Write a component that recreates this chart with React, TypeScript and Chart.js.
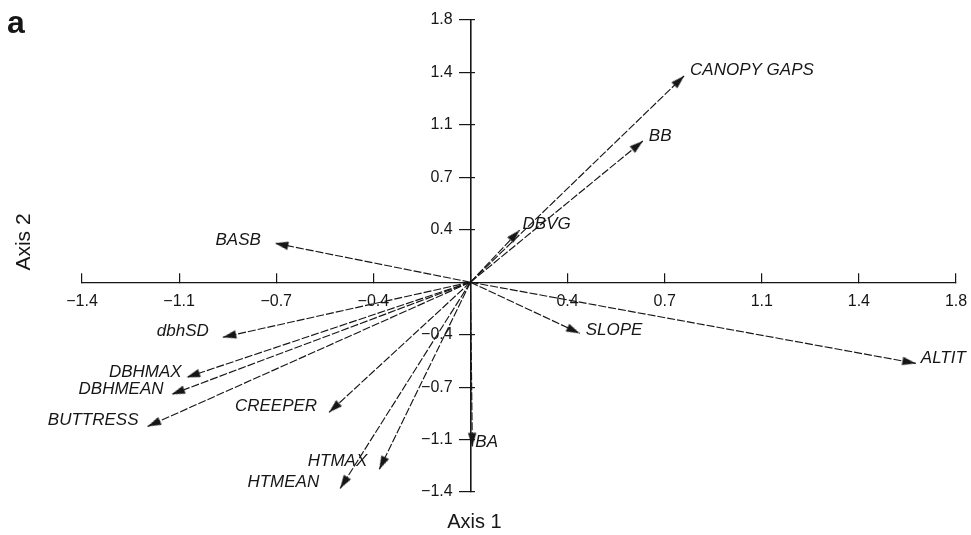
import React, { useEffect, useRef } from "react";
import { Chart, registerables } from "chart.js";

Chart.register(...registerables);

// ---- data ----
const VARIABLES = [
  "CANOPY GAPS", "BB", "DBVG", "BASB", "SLOPE", "ALTIT", "dbhSD",
  "DBHMAX", "DBHMEAN", "BUTTRESS", "CREEPER", "HTMAX", "HTMEAN", "BA",
];
const AXIS1_SCORES = [0.792, 0.639, 0.182, -0.725, 0.405, 1.651, -0.918, -1.052, -1.108, -1.197, -0.524, -0.338, -0.483, 0.007];
const AXIS2_SCORES = [1.416, 0.969, 0.357, 0.268, -0.351, -0.557, -0.378, -0.653, -0.77, -0.99, -0.893, -1.285, -1.416, -1.127];

const X_TICK_VALUES = [-1.44, -1.08, -0.72, -0.36, 0, 0.36, 0.72, 1.08, 1.44, 1.8];
const X_TICK_LABELS = ["\u22121.4", "\u22121.1", "\u22120.7", "\u22120.4", "", "0.4", "0.7", "1.1", "1.4", "1.8"];
const Y_TICK_VALUES = [-1.44, -1.08, -0.72, -0.36, 0, 0.36, 0.72, 1.08, 1.44, 1.8];
const Y_TICK_LABELS = ["\u22121.4", "\u22121.1", "\u22120.7", "\u22120.4", "", "0.4", "0.7", "1.1", "1.4", "1.8"];

const X_TITLE = "Axis 1";
const Y_TITLE = "Axis 2";
const PANEL_LETTER = "a";

// ---- label placement (style, not data) ----
const LABEL_ALIGN = ["left", "left", "left", "right", "left", "left", "right", "right", "right", "right", "right", "right", "right", "left"];
const LABEL_DX = [6, 6, 3, -14, 6, 5, -14, -5, -8, -9, -12, -12, -21, 3];
const LABEL_DY = [-6, -5, -6, -3, -3, -5, -6, -5, -5, -6, -6, -8, -6, -4];

const INK = "#161616";
const FONT = "'Liberation Sans', Arial, Helvetica, sans-serif";
const Y_LABEL_GAP = "    "; // pushes right-aligned y labels clear of the tick marks

function makeArrowHead(): HTMLCanvasElement {
  const c = document.createElement("canvas");
  c.width = 10;
  c.height = 28;
  const g = c.getContext("2d")!;
  g.fillStyle = INK;
  g.beginPath();
  g.moveTo(5, 14);
  g.lineTo(9.2, 27.5);
  g.lineTo(0.8, 27.5);
  g.closePath();
  g.fill();
  return c;
}

const labelPlugin = {
  id: "vectorLabels",
  afterDatasetsDraw(chart: any) {
    const { ctx, scales } = chart;
    const xs = scales.x;
    const ys = scales.y;
    ctx.save();
    ctx.fillStyle = INK;
    ctx.font = `italic 17px ${FONT}`;
    ctx.textBaseline = "middle";
    VARIABLES.forEach((name, i) => {
      const px = xs.getPixelForValue(AXIS1_SCORES[i]);
      const py = ys.getPixelForValue(AXIS2_SCORES[i]);
      ctx.textAlign = LABEL_ALIGN[i];
      ctx.fillText(name, px + LABEL_DX[i], py + LABEL_DY[i]);
    });
    ctx.restore();

    ctx.save();
    ctx.fillStyle = INK;
    ctx.font = `20px ${FONT}`;
    ctx.textAlign = "center";
    ctx.textBaseline = "middle";
    ctx.fillText(X_TITLE, xs.getPixelForValue(0) + 4, 522);
    ctx.translate(24, 242);
    ctx.rotate(-Math.PI / 2);
    ctx.font = `21px ${FONT}`;
    ctx.fillText(Y_TITLE, 0, 0);
    ctx.restore();

    ctx.save();
    ctx.fillStyle = INK;
    ctx.font = `bold 32px ${FONT}`;
    ctx.textAlign = "left";
    ctx.textBaseline = "alphabetic";
    ctx.fillText(PANEL_LETTER, 7, 33);
    ctx.restore();
  },
};

const noEdgePadding = (s: any) => {
  s.paddingLeft = 0;
  s.paddingRight = 0;
  s.paddingTop = 0;
  s.paddingBottom = 0;
};

export default function App() {
  const ref = useRef<HTMLCanvasElement | null>(null);

  useEffect(() => {
    if (!ref.current) return;
    const head = makeArrowHead();

    const datasets = VARIABLES.map((name, i) => ({
      label: name,
      data: [
        { x: 0, y: 0 },
        { x: AXIS1_SCORES[i], y: AXIS2_SCORES[i] },
      ],
      showLine: true,
      borderColor: INK,
      borderWidth: 1.15,
      borderDash: [8, 2],
      pointRadius: [0, 5],
      pointHoverRadius: [0, 5],
      pointStyle: head,
      pointRotation: (c: any) => {
        const chart = c.chart;
        const xs = chart.scales.x;
        const ys = chart.scales.y;
        const dx = xs.getPixelForValue(AXIS1_SCORES[i]) - xs.getPixelForValue(0);
        const dy = ys.getPixelForValue(AXIS2_SCORES[i]) - ys.getPixelForValue(0);
        return (Math.atan2(dx, -dy) * 180) / Math.PI;
      },
    }));

    const tickFont = { family: FONT, size: 16 };
    const tickGrid = (len: number) => ({
      drawOnChartArea: false,
      drawTicks: true,
      tickLength: len,
      color: INK,
      tickColor: INK,
      lineWidth: 1.2,
      tickWidth: 1.2,
    });

    const chart = new Chart(ref.current, {
      type: "scatter",
      data: { datasets },
      options: {
        animation: false,
        responsive: false,
        devicePixelRatio: 1,
        layout: { padding: { left: 82, right: 15, top: 20, bottom: 43 } },
        plugins: {
          legend: { display: false },
          tooltip: { enabled: false },
        },
        events: [],
        scales: {
          x: {
            type: "linear",
            position: { y: 0 },
            min: -1.44,
            max: 1.8,
            afterBuildTicks: (s: any) => {
              s.ticks = X_TICK_VALUES.map((v) => ({ value: v }));
            },
            afterFit: noEdgePadding,
            ticks: {
              autoSkip: false,
              maxRotation: 0,
              padding: 20,
              color: INK,
              font: tickFont,
              callback: (_v: any, idx: number) => X_TICK_LABELS[idx],
            },
            grid: tickGrid(-10),
            border: { display: true, color: INK, width: 1.3 },
          },
          y: {
            type: "linear",
            position: { x: 0 },
            min: -1.44,
            max: 1.8,
            afterBuildTicks: (s: any) => {
              s.ticks = Y_TICK_VALUES.map((v) => ({ value: v }));
            },
            afterFit: noEdgePadding,
            ticks: {
              autoSkip: false,
              padding: 5,
              color: INK,
              font: tickFont,
              callback: (_v: any, idx: number) =>
                Y_TICK_LABELS[idx] ? Y_TICK_LABELS[idx] + Y_LABEL_GAP : "",
            },
            grid: tickGrid(11),
            border: { display: true, color: INK, width: 1.6 },
          },
          y2: {
            type: "linear",
            axis: "y",
            position: { x: 0 },
            min: -1.44,
            max: 1.8,
            afterBuildTicks: (s: any) => {
              s.ticks = Y_TICK_VALUES.map((v) => ({ value: v }));
            },
            afterFit: noEdgePadding,
            ticks: { display: false },
            grid: tickGrid(-5),
            border: { display: false },
          },
        },
      } as any,
      plugins: [labelPlugin],
    });

    return () => chart.destroy();
  }, []);

  return (
    <div style={{ position: "absolute", left: 0, top: 0, width: 971, height: 535, background: "#fff" }}>
      <canvas ref={ref} width={971} height={535} style={{ display: "block" }} />
    </div>
  );
}
